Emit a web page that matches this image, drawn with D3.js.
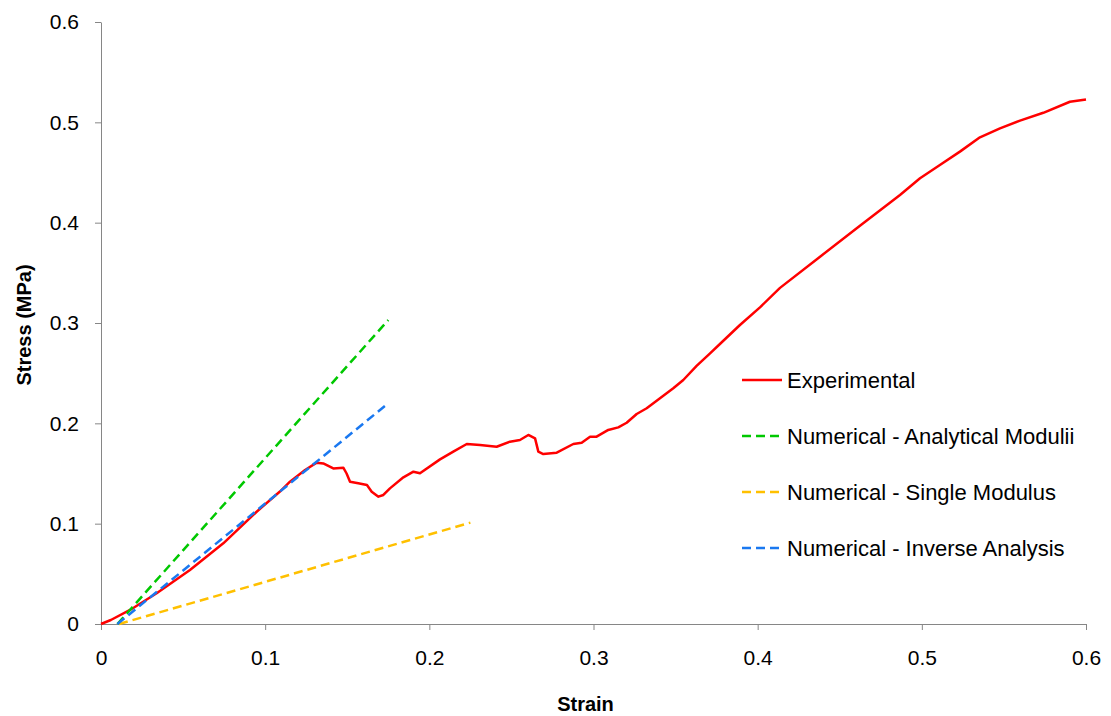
<!DOCTYPE html>
<html>
<head>
<meta charset="utf-8">
<script src="https://cdn.jsdelivr.net/npm/d3@7"></script>
<style>
  body { margin: 0; background: #fff; }
  text { font-family: "Liberation Sans", Arial, sans-serif; fill: #000; }
</style>
</head>
<body>
<div id="chart"></div>
<script>
var svgWidth = 1111;
var svgHeight = 716;
var margin = { top: 22, right: 25, bottom: 92, left: 101 };
var width = svgWidth - margin.left - margin.right;
var height = svgHeight - margin.top - margin.bottom;

// experimental curve
var expStrain = [0, 0.006, 0.0177, 0.0339, 0.0542, 0.0745, 0.0948, 0.109, 0.1151, 0.1243,
  0.1314, 0.1354, 0.1415, 0.1476, 0.1496, 0.1517, 0.1567, 0.162, 0.1649, 0.169,
  0.172, 0.176, 0.1842, 0.1903, 0.1943, 0.2065, 0.2146, 0.2228, 0.2309, 0.241,
  0.2491, 0.2552, 0.2603, 0.2644, 0.2664, 0.2694, 0.2776, 0.2877, 0.2928, 0.2979,
  0.3019, 0.309, 0.3151, 0.3202, 0.3263, 0.3324, 0.3405, 0.3486, 0.3547, 0.3628,
  0.371, 0.377, 0.3892, 0.4014, 0.4136, 0.438, 0.4623, 0.4867, 0.4989, 0.511,
  0.5232, 0.5354, 0.5476, 0.5598, 0.574, 0.5902, 0.6];
var expStress = [0, 0.004, 0.014, 0.0306, 0.0538, 0.0804, 0.1119, 0.132, 0.1418, 0.1535,
  0.1608, 0.160, 0.155, 0.1558, 0.150, 0.1418, 0.1402, 0.1385, 0.1319, 0.1269,
  0.1286, 0.1352, 0.1462, 0.1518, 0.1502, 0.1641, 0.1718, 0.1794, 0.1784, 0.1767,
  0.1817, 0.1834, 0.1884, 0.185, 0.1718, 0.1694, 0.1707, 0.1794, 0.1807, 0.1867,
  0.1867, 0.1934, 0.196, 0.2006, 0.2093, 0.215, 0.2249, 0.2349, 0.2432, 0.2572,
  0.2698, 0.2791, 0.298, 0.3156, 0.335, 0.3661, 0.397, 0.4276, 0.4442, 0.4575,
  0.4708, 0.4851, 0.494, 0.5017, 0.5095, 0.5205, 0.5228];

// numerical predictions (straight lines)
var analyticalStrain = [0.01, 0.175];
var analyticalStress = [0, 0.303];
var singleStrain = [0.011, 0.225];
var singleStress = [0, 0.101];
var inverseStrain = [0.01, 0.175];
var inverseStress = [0, 0.22];

var xTicks = [0, 0.1, 0.2, 0.3, 0.4, 0.5, 0.6];
var yTicks = [0, 0.1, 0.2, 0.3, 0.4, 0.5, 0.6];

var seriesNames = ["Experimental", "Numerical - Analytical Modulii", "Numerical - Single Modulus", "Numerical - Inverse Analysis"];
var seriesColors = ["#ff0000", "#00c800", "#ffc000", "#1a78f0"];

function zipPts(xs, ys) {
  return xs.map((x, i) => [x, ys[i]]);
}
var series = [
  zipPts(expStrain, expStress),
  zipPts(analyticalStrain, analyticalStress),
  zipPts(singleStrain, singleStress),
  zipPts(inverseStrain, inverseStress)
];

var svg = d3.select("#chart")
  .append("svg")
  .attr("width", svgWidth)
  .attr("height", svgHeight);

var chartGroup = svg.append("g")
  .attr("transform", `translate(${margin.left}, ${margin.top})`);

var x = d3.scaleLinear().domain([0, 0.6]).range([0, width]);
var y = d3.scaleLinear().domain([0, 0.6]).range([height, 0]);

// axes
var xAxis = chartGroup.append("g")
  .attr("transform", `translate(0, ${height})`)
  .call(d3.axisBottom(x).tickValues(xTicks).tickSize(6).tickSizeOuter(0).tickFormat(d3.format("")));
var yAxis = chartGroup.append("g")
  .call(d3.axisLeft(y).tickValues(yTicks).tickSize(6).tickSizeOuter(0).tickFormat(d3.format("")));

[xAxis, yAxis].forEach(function(a) {
  a.select(".domain").attr("stroke", "#868686");
  a.selectAll(".tick line").attr("stroke", "#868686");
  a.selectAll(".tick text").style("font-size", "21px").attr("fill", "#000");
});
xAxis.selectAll(".tick text").attr("y", 26);
yAxis.selectAll(".tick text").attr("x", -22);

// lines
var line = d3.line().x(d => x(d[0])).y(d => y(d[1]));
series.forEach(function(pts, i) {
  chartGroup.append("path")
    .datum(pts)
    .attr("fill", "none")
    .attr("stroke", seriesColors[i])
    .attr("stroke-width", 2.5)
    .attr("stroke-linejoin", "round")
    .attr("stroke-dasharray", i === 0 ? null : "9,5")
    .attr("d", line);
});

// axis titles
svg.append("text")
  .attr("x", margin.left + width / 2 - 8)
  .attr("y", 711)
  .attr("text-anchor", "middle")
  .style("font-size", "20px")
  .style("font-weight", "bold")
  .text("Strain");
svg.append("text")
  .attr("transform", "translate(31, 325) rotate(-90)")
  .attr("text-anchor", "middle")
  .style("font-size", "20px")
  .style("font-weight", "bold")
  .text("Stress (MPa)");

// legend
var legend = svg.append("g").attr("transform", "translate(742, 380)");
seriesNames.forEach(function(name, i) {
  var row = legend.append("g").attr("transform", `translate(0, ${i * 56})`);
  row.append("line")
    .attr("x1", 0).attr("x2", 40)
    .attr("y1", 0).attr("y2", 0)
    .attr("stroke", seriesColors[i])
    .attr("stroke-width", 2.5)
    .attr("stroke-dasharray", i === 0 ? null : "9,5");
  row.append("text")
    .attr("x", 45)
    .attr("y", 8)
    .style("font-size", "22px")
    .text(name);
});
</script>
</body>
</html>
